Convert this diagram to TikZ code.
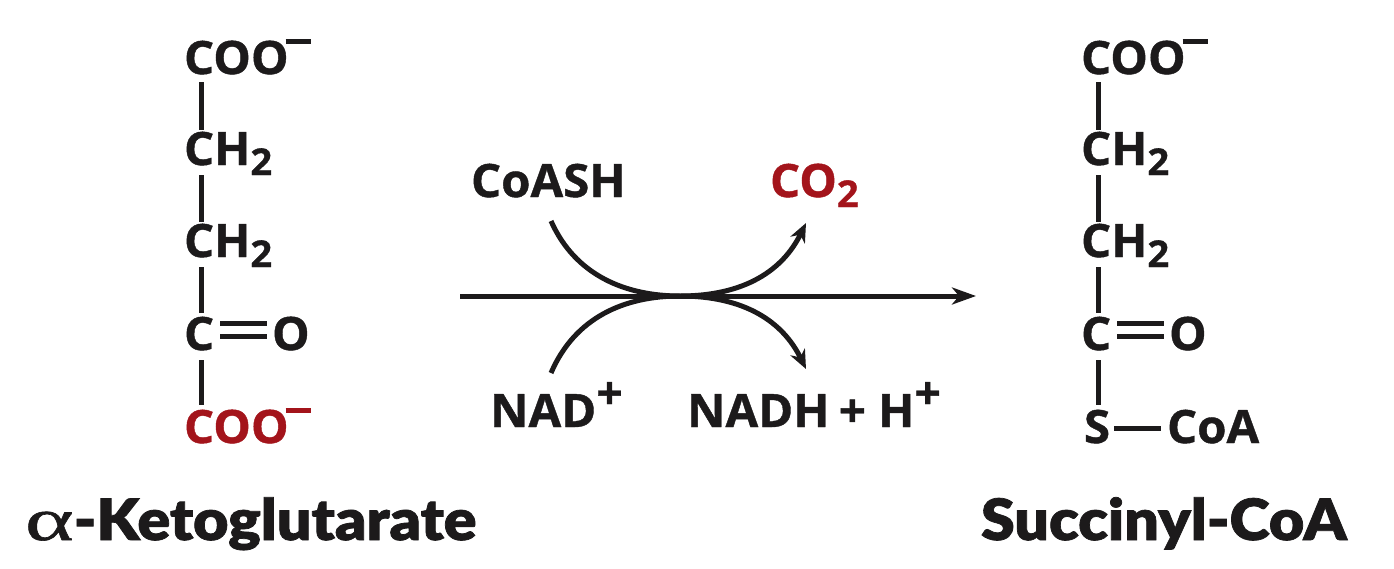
\documentclass[tikz,border=0pt]{standalone}
\usepackage{fontspec}
\usetikzlibrary{arrows.meta,calc}
\setmainfont{Open Sans}[BoldFont={Open Sans Bold},BoldFeatures={FakeBold=0.9,FakeStretch=1.03}]
\newfontfamily\ttlfont{Lato Black}[FakeStretch=1.07,FakeBold=1.3]
\newfontfamily\greekfont{Liberation Serif}[FakeBold=1,FakeStretch=1.55]
\definecolor{ink}{HTML}{1C1A1B}
\definecolor{darkred}{HTML}{A3141B}
\tikzset{
  x=1pt,y=-1pt,
  every node/.style={inner sep=0pt,outer sep=0pt,anchor=base west,text=ink},
  chem/.style={font=\fontsize{46}{46}\selectfont\bfseries},
  ttl/.style={font=\fontsize{57}{57}\ttlfont},
  red/.style={text=darkred},
  bond/.style={draw=ink,line width=5pt},
  reac/.style={draw=ink,line width=5pt},
  curvearrow/.style={reac,-{Stealth[length=19pt,width=16pt,inset=6pt]}},
  mainarrow/.style={reac,-{Stealth[length=24pt,width=17pt,inset=7pt]}},
}
\newcommand{\subt}[1]{\raisebox{-10pt}{\fontsize{37}{37}\selectfont #1}}
\newcommand{\supt}[1]{\raisebox{18pt}{\fontsize{45}{45}\selectfont #1}}
\newcommand{\minussign}{\raisebox{30pt}{\kern-3pt\rule{25pt}{5pt}}}
\begin{document}
\begin{tikzpicture}
\useasboundingbox (0,0) rectangle (1394,568);
% left column
\node[chem] (la) at (184,74) {COO\minussign};
\node[chem] (lb) at (184,165) {CH\subt{2}};
\node[chem] (lc) at (184,257) {CH\subt{2}};
\node[chem] (ld) at (184,350) {C};
\node[chem] (lo) at (272,350) {O};
\node[chem,red] (le) at (184,443) {COO\minussign};
\draw[bond] ([xshift=17pt,yshift=-8pt]la.base west) -- ([xshift=17pt,yshift=35pt]lb.base west);
\draw[bond] ([xshift=17pt,yshift=-10pt]lb.base west) -- ([xshift=17pt,yshift=35pt]lc.base west);
\draw[bond] ([xshift=17pt,yshift=-10pt]lc.base west) -- ([xshift=17pt,yshift=37pt]ld.base west);
\draw[bond] ([xshift=17pt,yshift=-10pt]ld.base west) -- ([xshift=17pt,yshift=38pt]le.base west);
\draw[bond] ([xshift=36pt,yshift=27pt]ld.base west) -- ([xshift=-5pt,yshift=27pt]lo.base west);
\draw[bond] ([xshift=36pt,yshift=14pt]ld.base west) -- ([xshift=-5pt,yshift=14pt]lo.base west);
% right column
\node[chem] (ra) at (1081,74) {COO\minussign};
\node[chem] (rb) at (1081,165) {CH\subt{2}};
\node[chem] (rc) at (1081,257) {CH\subt{2}};
\node[chem] (rd) at (1081,350) {C};
\node[chem] (ro) at (1169,350) {O};
\node[chem] (rs) at (1084,443) {S};
\node[chem] (rf) at (1167,443) {CoA};
\draw[bond] ([xshift=17pt,yshift=-8pt]ra.base west) -- ([xshift=17pt,yshift=35pt]rb.base west);
\draw[bond] ([xshift=17pt,yshift=-10pt]rb.base west) -- ([xshift=17pt,yshift=35pt]rc.base west);
\draw[bond] ([xshift=17pt,yshift=-10pt]rc.base west) -- ([xshift=17pt,yshift=37pt]rd.base west);
\draw[bond] ([xshift=17pt,yshift=-10pt]rd.base west) -- ([xshift=14pt,yshift=38pt]rs.base west);
\draw[bond] ([xshift=36pt,yshift=27pt]rd.base west) -- ([xshift=-5pt,yshift=27pt]ro.base west);
\draw[bond] ([xshift=36pt,yshift=14pt]rd.base west) -- ([xshift=-5pt,yshift=14pt]ro.base west);
\draw[bond] ([xshift=4pt,yshift=15pt]rs.base east) -- ([xshift=-6pt,yshift=15pt]rf.base west);
% cofactors
\node[chem] (coash) at (471,197) {CoASH};
\node[chem,red] (co2) at (770,197) {CO\subt{2}};
\node[chem] (nad) at (490,427) {NAD\supt{+}};
\node[chem] (nadh) at (687,427) {NADH\kern-3pt{} + H\supt{+}};
% arrows
\coordinate (ms) at (460,296);
\coordinate (me) at (976,296);
\coordinate (mid) at (680,296);
\coordinate (t1) at (806,223);
\coordinate (t2) at (806,369);
\coordinate (s1) at (551,221);
\coordinate (s2) at (551,373);
\draw[mainarrow] (ms) -- (me);
\draw[reac] (s1) .. controls (575,275) and (625,296) .. (mid);
\draw[reac] (s2) .. controls (575,317) and (625,296) .. (mid);
\draw[curvearrow] (mid) .. controls (745,296) and (783,270) .. (t1);
\draw[curvearrow] (mid) .. controls (745,296) and (783,322) .. (t2);
% names
\node[ttl] (tl) at (25,540) {{\greekfont\fontsize{60}{60}\selectfont α}-Ketoglutarate};
\node[ttl] (tr) at (981,540) {Succinyl-CoA};
\end{tikzpicture}
\end{document}
